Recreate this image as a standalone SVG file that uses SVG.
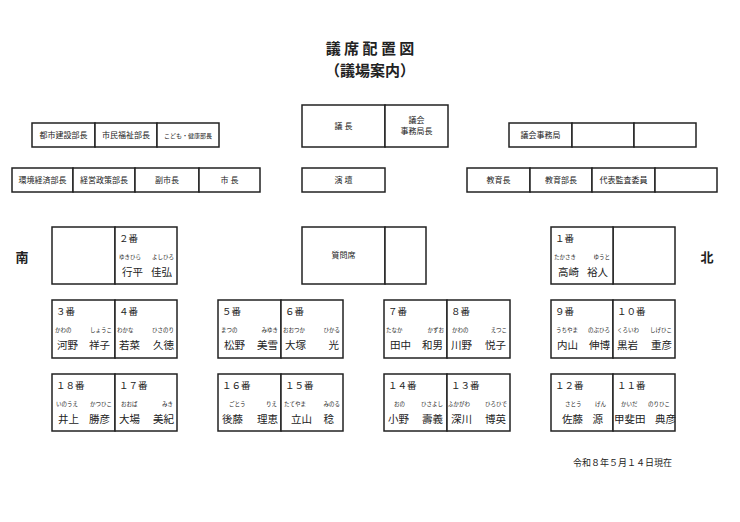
<svg xmlns="http://www.w3.org/2000/svg" width="740" height="522" viewBox="0 0 740 522">
<style>
text{font-family:"Noto Sans CJK JP","Liberation Serif",serif;fill:#222}
rect{fill:#fff;stroke:#222;stroke-width:1.5}
.t{font-size:8px;text-anchor:middle}
.n{font-size:9.5px}
.f{font-size:5.5px}
.m{font-size:10.5px}
.r{text-anchor:end}
.h{font-size:15px;font-weight:bold;text-anchor:middle}
</style>
<rect x="0" y="0" width="740" height="522" style="fill:#fff;stroke:none"/>
<g id="title">
<text class="h" x="370" y="54">議 席 配 置 図</text>
<text class="h" x="370" y="76">（議場案内）</text>
</g>
<g id="left-row1">
<rect x="32" y="123" width="63" height="24"/><text class="t" x="63.5" y="138">都市建設部長</text>
<rect x="95" y="123" width="62" height="24"/><text class="t" x="126" y="138">市民福祉部長</text>
<rect x="157" y="123" width="62" height="24"/><text class="t" x="188" y="137.5" style="font-size:6px">こども・健康部長</text>
</g>
<g id="left-row2">
<rect x="12" y="168" width="61" height="24"/><text class="t" x="42.5" y="183">環境経済部長</text>
<rect x="73" y="168" width="62" height="24"/><text class="t" x="104" y="183">経営政策部長</text>
<rect x="135" y="168" width="64" height="24"/><text class="t" x="167" y="183">副市長</text>
<rect x="199" y="168" width="61" height="24"/><text class="t" x="229.5" y="183">市 長</text>
</g>
<g id="chair">
<rect x="302" y="105" width="83" height="42"/><text class="t" x="343.5" y="129">議 長</text>
<rect x="385" y="105" width="63" height="42"/><text class="t" x="416.5" y="123">議会</text><text class="t" x="416.5" y="134">事務局長</text>
</g>
<g id="podium"><rect x="302" y="168" width="83" height="24"/><text class="t" x="343.5" y="183">演 壇</text></g>
<g id="question"><rect x="302" y="227" width="83" height="57"/><rect x="385" y="227" width="41" height="57"/><text class="t" x="343.5" y="258">質問席</text></g>
<g id="right-row1">
<rect x="509" y="123" width="63" height="24"/><text class="t" x="540.5" y="138">議会事務局</text>
<rect x="572" y="123" width="62" height="24"/>
<rect x="634" y="123" width="62" height="24"/>
</g>
<g id="right-row2">
<rect x="467" y="168" width="63" height="24"/><text class="t" x="498.5" y="183">教育長</text>
<rect x="530" y="168" width="62" height="24"/><text class="t" x="561" y="183">教育部長</text>
<rect x="592" y="168" width="63" height="24"/><text class="t" x="623.5" y="183">代表監査委員</text>
<rect x="655" y="168" width="62" height="24"/>
</g>
<g id="south"><text x="22" y="262" style="font-size:13px;font-weight:bold;text-anchor:middle">南</text></g>
<g id="north"><text x="707" y="262" style="font-size:13px;font-weight:bold;text-anchor:middle">北</text></g>
<g id="seat-empty-L"><rect x="52" y="227" width="63" height="57"/></g>
<g id="seat-empty-R"><rect x="613" y="227" width="62" height="57"/></g>
<g id="seat2"><rect x="115" y="227" width="62" height="57"/><text class="n" x="119" y="242">２番</text><text class="f" x="119" y="259">ゆきひら</text><text class="f r" x="174" y="259">よしひろ</text><text class="m" x="122" y="276">行平</text><text class="m r" x="172" y="276">佳弘</text></g>
<g id="seat1"><rect x="551" y="227" width="62" height="57"/><text class="n" x="555" y="242">１番</text><text class="f" x="554" y="259">たかさき</text><text class="f r" x="610" y="259">ゆうと</text><text class="m" x="558" y="276">高崎</text><text class="m r" x="608" y="276">裕人</text></g>
<g id="seat3"><rect x="52" y="300" width="63" height="58"/><text class="n" x="56" y="315">３番</text><text class="f" x="55" y="332">かわの</text><text class="f r" x="112" y="332">しょうこ</text><text class="m" x="57" y="349">河野</text><text class="m r" x="110" y="349">祥子</text></g>
<g id="seat4"><rect x="115" y="300" width="62" height="58"/><text class="n" x="119" y="315">４番</text><text class="f" x="117" y="332">わかな</text><text class="f r" x="174" y="332">ひさのり</text><text class="m" x="119" y="349">若菜</text><text class="m r" x="174" y="349">久徳</text></g>
<g id="seat5"><rect x="218" y="300" width="63" height="58"/><text class="n" x="222" y="315">５番</text><text class="f" x="221" y="332">まつの</text><text class="f r" x="278" y="332">みゆき</text><text class="m" x="224" y="349">松野</text><text class="m r" x="278" y="349">美雪</text></g>
<g id="seat6"><rect x="281" y="300" width="62" height="58"/><text class="n" x="285" y="315">６番</text><text class="f" x="283" y="332">おおつか</text><text class="f r" x="340" y="332">ひかる</text><text class="m" x="285" y="349">大塚</text><text class="m r" x="339" y="349">光</text></g>
<g id="seat7"><rect x="384" y="300" width="63" height="58"/><text class="n" x="388" y="315">７番</text><text class="f" x="386" y="332">たなか</text><text class="f r" x="444" y="332">かずお</text><text class="m" x="390" y="349">田中</text><text class="m r" x="443" y="349">和男</text></g>
<g id="seat8"><rect x="447" y="300" width="63" height="58"/><text class="n" x="451" y="315">８番</text><text class="f" x="452" y="332">かわの</text><text class="f r" x="507" y="332">えつこ</text><text class="m" x="451" y="349">川野</text><text class="m r" x="506" y="349">悦子</text></g>
<g id="seat9"><rect x="551" y="300" width="62" height="58"/><text class="n" x="555" y="315">９番</text><text class="f" x="556" y="332">うちやま</text><text class="f r" x="610" y="332">のぶひろ</text><text class="m" x="557" y="349">内山</text><text class="m r" x="610" y="349">伸博</text></g>
<g id="seat10"><rect x="613" y="300" width="62" height="58"/><text class="n" x="617" y="315">１０番</text><text class="f" x="617" y="332">くろいわ</text><text class="f r" x="672" y="332">しげひこ</text><text class="m" x="617" y="349">黒岩</text><text class="m r" x="672" y="349">重彦</text></g>
<g id="seat18"><rect x="52" y="374" width="63" height="57"/><text class="n" x="56" y="389">１８番</text><text class="f" x="56" y="406">いのうえ</text><text class="f r" x="112" y="406">かつひこ</text><text class="m" x="58" y="423">井上</text><text class="m r" x="110" y="423">勝彦</text></g>
<g id="seat17"><rect x="115" y="374" width="62" height="57"/><text class="n" x="119" y="389">１７番</text><text class="f" x="121" y="406">おおば</text><text class="f r" x="173" y="406">みき</text><text class="m" x="119" y="423">大場</text><text class="m r" x="174" y="423">美紀</text></g>
<g id="seat16"><rect x="218" y="374" width="63" height="57"/><text class="n" x="222" y="389">１６番</text><text class="f" x="229" y="406">ごとう</text><text class="f r" x="277" y="406">りえ</text><text class="m" x="222" y="423">後藤</text><text class="m r" x="278" y="423">理恵</text></g>
<g id="seat15"><rect x="281" y="374" width="62" height="57"/><text class="n" x="285" y="389">１５番</text><text class="f" x="284" y="406">たてやま</text><text class="f r" x="340" y="406">みのる</text><text class="m" x="291" y="423">立山</text><text class="m r" x="334" y="423">稔</text></g>
<g id="seat14"><rect x="384" y="374" width="63" height="57"/><text class="n" x="388" y="389">１４番</text><text class="f" x="394" y="406">おの</text><text class="f r" x="443" y="406">ひさよし</text><text class="m" x="388" y="423">小野</text><text class="m r" x="443" y="423">壽義</text></g>
<g id="seat13"><rect x="447" y="374" width="63" height="57"/><text class="n" x="451" y="389">１３番</text><text class="f" x="448" y="406">ふかがわ</text><text class="f r" x="507" y="406">ひろひで</text><text class="m" x="451" y="423">深川</text><text class="m r" x="506" y="423">博英</text></g>
<g id="seat12"><rect x="551" y="374" width="62" height="57"/><text class="n" x="555" y="389">１２番</text><text class="f" x="565" y="406">さとう</text><text class="f r" x="606" y="406">げん</text><text class="m" x="562" y="423">佐藤</text><text class="m r" x="603" y="423">源</text></g>
<g id="seat11"><rect x="613" y="374" width="62" height="57"/><text class="n" x="617" y="389">１１番</text><text class="f" x="621" y="406">かいだ</text><text class="f r" x="670" y="406">のりひこ</text><text class="m" x="614" y="423">甲斐田</text><text class="m r" x="676" y="423">典彦</text></g>
<g id="connectors"></g>
<g id="date"><text x="672" y="466" style="font-size:9px;text-anchor:end">令和８年５月１４日現在</text></g>
</svg>
